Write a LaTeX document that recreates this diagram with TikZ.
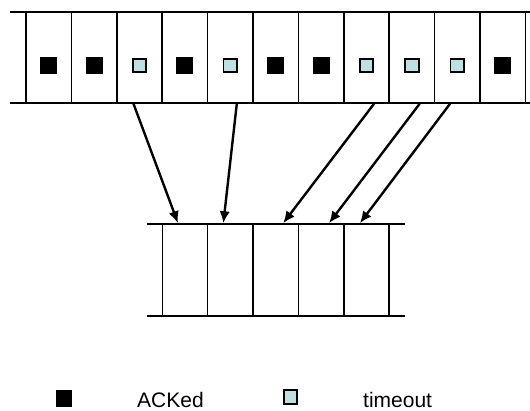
\documentclass[tikz,border=0pt]{standalone}
\usepackage{fontspec}
\setmainfont{Liberation Sans}
\usepackage{tikz}
\usetikzlibrary{arrows.meta,positioning,calc}
\definecolor{lightcyan}{HTML}{BEE0E3}

\begin{document}
\begin{tikzpicture}[x=1pt,y=1pt,>=Latex,font=\fontsize{21}{25}\selectfont,
  cell/.style={draw,line width=1.6pt,minimum width=45.4pt,minimum height=90.7pt,inner sep=0pt},
  slot/.style={draw,line width=1.6pt,minimum width=45.35pt,minimum height=91.7pt,inner sep=0pt},
  acked/.style={fill=black,minimum size=17pt,inner sep=0pt},
  timeout/.style={draw,fill=lightcyan,line width=1.8pt,minimum size=13.6pt,inner sep=0pt},
  rail/.style={line width=2pt},
  resend/.style={-{Latex[length=12pt,width=10.5pt]},line width=2.4pt}]
  \useasboundingbox (0,0) rectangle (530,-410);
  % sent window
  \node[cell] (sent1) at (48.7,-57.65) {};
  \node[cell] (sent2) at (94.1,-57.65) {};
  \node[cell] (sent3) at (139.5,-57.65) {};
  \node[cell] (sent4) at (184.9,-57.65) {};
  \node[cell] (sent5) at (230.3,-57.65) {};
  \node[cell] (sent6) at (275.7,-57.65) {};
  \node[cell] (sent7) at (321.1,-57.65) {};
  \node[cell] (sent8) at (366.5,-57.65) {};
  \node[cell] (sent9) at (411.9,-57.65) {};
  \node[cell] (sent10) at (457.3,-57.65) {};
  \node[cell] (sent11) at (502.7,-57.65) {};
  \draw[rail] (10,-12.3) -- (530,-12.3);
  \draw[rail] (10,-103) -- (530,-103);
  % packet states
  \node[acked] (state1) at (48.7,-65.5) {};
  \node[acked] (state2) at (94.1,-65.5) {};
  \node[timeout] (state3) at (139.5,-65.5) {};
  \node[acked] (state4) at (184.9,-65.5) {};
  \node[timeout] (state5) at (230.3,-65.5) {};
  \node[acked] (state6) at (275.7,-65.5) {};
  \node[acked] (state7) at (321.1,-65.5) {};
  \node[timeout] (state8) at (366.5,-65.5) {};
  \node[timeout] (state9) at (411.9,-65.5) {};
  \node[timeout] (state10) at (457.3,-65.5) {};
  \node[acked] (state11) at (502.7,-65.5) {};
  % retransmission queue
  \node[slot] (retx1) at (185.0,-269.85) {};
  \node[slot] (retx2) at (230.35,-269.85) {};
  \node[slot] (retx3) at (275.7,-269.85) {};
  \node[slot] (retx4) at (321.05,-269.85) {};
  \node[slot] (retx5) at (366.4,-269.85) {};
  \draw[rail] (146.7,-224) -- (405,-224);
  \draw[rail] (146.7,-315.7) -- (405,-315.7);
  \draw[resend] ($(sent3.south)+(-6,0)$) -- ($(retx1.north)+(-7,0)$);
  \draw[resend] ($(sent5.south)+(6.5,0)$) -- ($(retx2.north)+(-7,0)$);
  \draw[resend] ($(sent8.south)+(7.5,0)$) -- ($(retx3.north)+(7.5,0)$);
  \draw[resend] ($(sent9.south)+(7.7,0)$) -- ($(retx4.north)+(8,0)$);
  \draw[resend] ($(sent10.south)+(-7.3,0)$) -- ($(retx5.north)+(-6.5,0)$);
  % legend
  \node[acked,minimum size=16.5pt] (keyacked) at (64,-398.5) {};
  \node[anchor=base west,inner sep=0pt] (keyackedtext) at (137,-407) {ACKed};
  \node[timeout] (keytimeout) at (290.5,-397) {};
  \node[anchor=base west,inner sep=0pt] (keytimeouttext) at (363,-407) {timeout};
\end{tikzpicture}
\end{document}
